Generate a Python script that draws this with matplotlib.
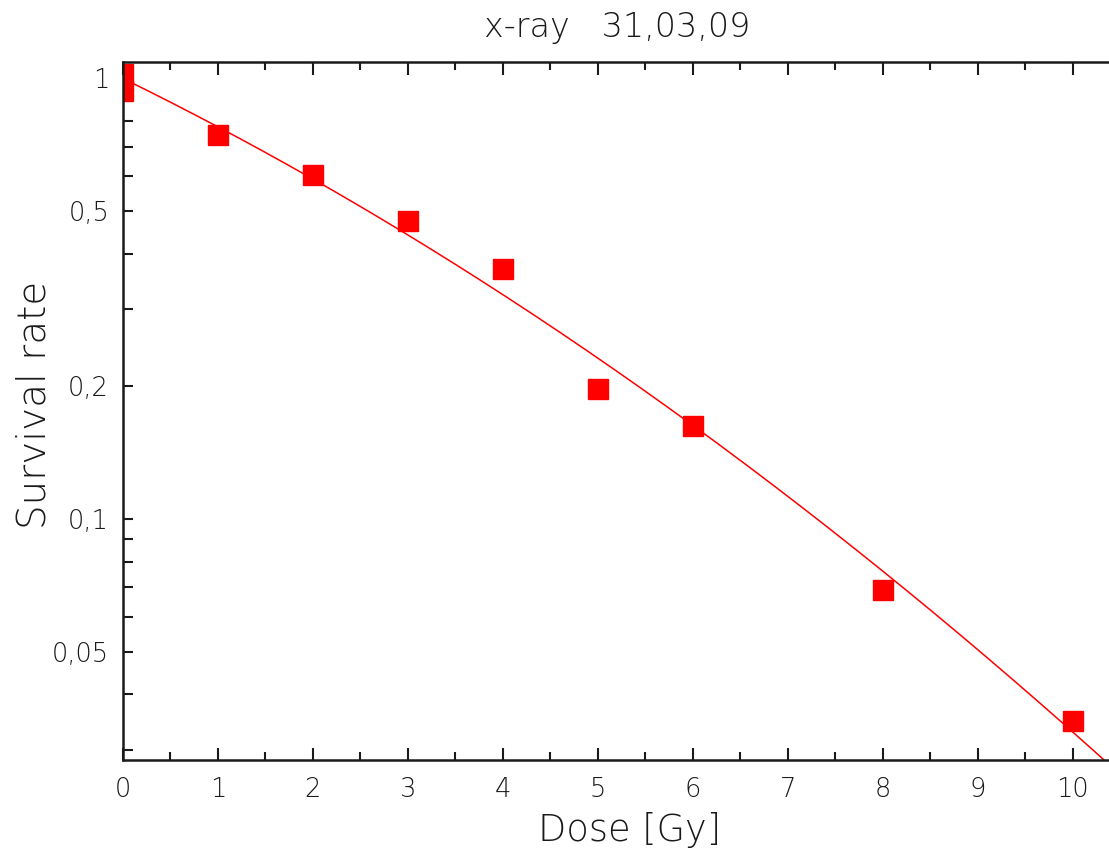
import numpy as np
import matplotlib
matplotlib.use("Agg")
import matplotlib.pyplot as plt
from matplotlib.ticker import FixedLocator, FixedFormatter, NullFormatter

# measured survival fractions
dose = [0, 0, 1, 2, 3, 4, 5, 6, 8, 10]
survival = [1.023, 0.936, 0.744, 0.604, 0.475, 0.369, 0.197, 0.1626, 0.069, 0.0348]

# linear-quadratic fit parameters: S = exp(-alpha*D - beta*D^2)
alpha = 0.243
beta = 0.00984

major_y = [0.05, 0.1, 0.2, 0.5, 1]
major_y_labels = ["0,05", "0,1", "0,2", "0,5", "1"]
minor_y = [0.03, 0.04, 0.06, 0.07, 0.08, 0.09, 0.3, 0.4, 0.6, 0.7, 0.8, 0.9]

ink = "#1a1a1a"
red = "#ff0000"

plt.rcParams["font.family"] = ["DejaVu Sans"]
plt.rcParams["font.weight"] = "light"

fig = plt.figure(figsize=(11.09, 8.5), dpi=100)
ax = fig.add_axes([123 / 1109, 90 / 850, 997 / 1109, 698 / 850])

d_fit = np.linspace(0, 10.5, 300)
ax.plot(d_fit, np.exp(-alpha * d_fit - beta * d_fit ** 2), color=red, lw=1.1)
ax.plot(dose, survival, ls="none", marker="s", ms=14.4, color=red, mec=red)

ax.set_yscale("log")
ax.set_xlim(0, 10.5)
ax.set_ylim(0.0284, 1.09)

ax.yaxis.set_major_locator(FixedLocator(major_y))
ax.yaxis.set_major_formatter(FixedFormatter(major_y_labels))
ax.yaxis.set_minor_locator(FixedLocator(minor_y))
ax.yaxis.set_minor_formatter(NullFormatter())
ax.set_xticks(range(0, 11))
ax.set_xticks(np.arange(0.5, 10.5, 1.0), minor=True)

ax.tick_params(which="both", direction="in", top=True, right=True,
               color=ink, width=1.5, labelsize=18.5, labelcolor=ink)
ax.tick_params(axis="x", which="major", length=9, pad=12)
ax.tick_params(axis="x", which="minor", length=6)
ax.tick_params(axis="y", which="both", length=7, pad=10)

for side in ax.spines.values():
    side.set_linewidth(1.8)
    side.set_color(ink)

# axis titles and header placed in figure coordinates
fig.text(630 / 1109, 1 - 830 / 850, "Dose [Gy]", fontsize=26.5, color=ink,
         ha="center", va="center")
fig.text(35 / 1109, 1 - 405 / 850, "Survival rate", fontsize=28, color=ink,
         ha="center", va="center", rotation=90)
fig.text(617 / 1109, 1 - 27 / 850, "x-ray   31,03,09", fontsize=24,
         color=ink, ha="center", va="center")

fig.savefig("out.png", dpi=100, facecolor="white")
